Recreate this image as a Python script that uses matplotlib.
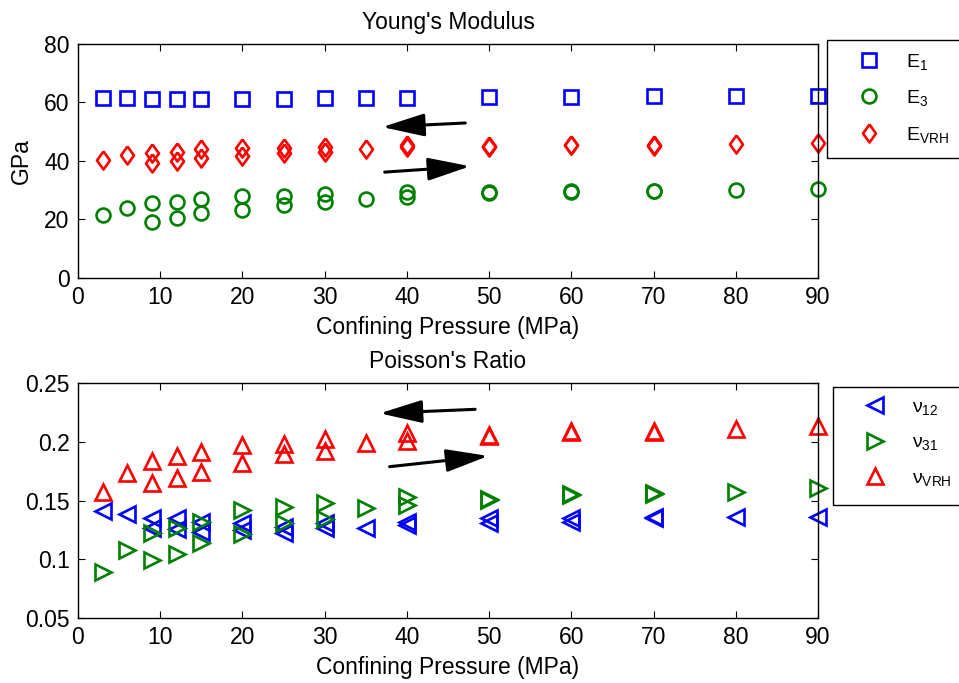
import numpy as np
import matplotlib
matplotlib.use('Agg')
import matplotlib.pyplot as plt
from matplotlib.patches import Rectangle

plt.rcParams['font.family'] = ['Liberation Sans', 'DejaVu Sans']
plt.rcParams['mathtext.default'] = 'regular'

# confining pressure for each measurement (MPa)
p_E1 = [3, 6, 9, 12, 15, 20, 25, 30, 35, 40, 50, 60, 70, 80, 90]
E1 = [61.4, 61.6, 61.1, 61.1, 61.1, 61.1, 61.1, 61.5, 61.5, 61.4, 62.0, 62.0, 62.2, 62.2, 62.2]

p_two = [3, 6, 9, 9, 12, 12, 15, 15, 20, 20, 25, 25, 30, 30, 35, 40, 40,
         50, 50, 60, 60, 70, 70, 80, 90]
E3 = [21.5, 23.8, 25.5, 19.3, 26.1, 20.4, 27.0, 22.1, 28.1, 23.2, 28.1, 25.0,
      28.7, 25.9, 26.9, 29.5, 27.8, 29.4, 28.9, 29.7, 29.3, 29.8, 29.6, 30.1, 30.5]
E_VRH = [40.3, 42.0, 42.6, 39.4, 43.2, 40.0, 44.0, 40.9, 44.3, 41.7, 44.6, 42.8,
         44.9, 43.2, 44.0, 45.5, 44.7, 45.1, 44.7, 45.6, 45.3, 45.4, 45.1, 45.7, 46.0]

nu12 = [0.141, 0.1385, 0.1354, 0.127, 0.1354, 0.1255, 0.132, 0.1235, 0.1306, 0.125,
        0.1277, 0.1227, 0.1306, 0.1263, 0.127, 0.132, 0.129, 0.1348, 0.1306,
        0.1348, 0.132, 0.1357, 0.1352, 0.1362, 0.136]
nu31 = [0.0889, 0.1079, 0.1221, 0.0994, 0.1269, 0.1042, 0.1314, 0.1136, 0.1419, 0.1212,
        0.1447, 0.1311, 0.1476, 0.1343, 0.1434, 0.1532, 0.146, 0.151, 0.1505,
        0.1555, 0.155, 0.1562, 0.1555, 0.1575, 0.1604]
nu_VRH = [0.1575, 0.173, 0.184, 0.165, 0.188, 0.169, 0.1915, 0.1745, 0.197, 0.182,
          0.198, 0.1896, 0.2023, 0.192, 0.1987, 0.2077, 0.2006, 0.2057, 0.2052,
          0.209, 0.2085, 0.2092, 0.2085, 0.2109, 0.2134]

xticks = [0, 10, 20, 30, 40, 50, 60, 70, 80, 90]

FS = 16.5

# matlab-like diamond (a bit wider than mpl's thin diamond)
diamond = [(0, 1), (0.72, 0), (0, -1), (-0.72, 0), (0, 1)]

fig = plt.figure(figsize=(9.59, 6.83), dpi=100)
ax1 = fig.add_axes([78/959, 1-278/683, 740/959, 234/683])
ax2 = fig.add_axes([78/959, 1-618/683, 740/959, 235/683])

mk = dict(linestyle='none', markerfacecolor='none', markersize=10, markeredgewidth=1.9,
          clip_on=False)

ax1.plot(p_E1, E1, marker='s', color='#0000ff', label='E$_1$', **mk)
ax1.plot(p_two, E3, marker='o', color='#008000', label='E$_3$', **mk)
mk_d = dict(mk, markersize=13)
ax1.plot(p_two, E_VRH, marker=diamond, color='#ff0000', label='E$_{VRH}$', **mk_d)

mk_t = dict(mk, markersize=11)
ax2.plot(p_two, nu12, marker='<', color='#0000ff', label='ν$_{12}$', **mk_t)
ax2.plot(p_two, nu31, marker='>', color='#008000', label='ν$_{31}$', **mk_t)
ax2.plot(p_two, nu_VRH, marker='^', color='#ff0000', label='ν$_{VRH}$', **mk_t)

ax1.set_ylim(0, 80)
ax1.set_yticks([0, 20, 40, 60, 80])
ax2.set_ylim(0.05, 0.25)
ax2.set_yticks([0.05, 0.1, 0.15, 0.2, 0.25])
ax2.set_yticklabels(['0.05', '0.1', '0.15', '0.2', '0.25'])

for ax in (ax1, ax2):
    ax.set_xlim(0, 90)
    ax.set_xticks(xticks)
    ax.tick_params(direction='in', top=True, right=True, labelsize=FS, length=5, width=0.8,
                   pad=6)
    ax.set_xlabel('Confining Pressure (MPa)', fontsize=FS, labelpad=5)
    for s in ax.spines.values():
        s.set_linewidth(1.0)

ax1.set_title("Young's Modulus", fontsize=FS, pad=11)
ax2.set_title("Poisson's Ratio", fontsize=FS, pad=11)
ax1.set_ylabel('GPa', fontsize=FS, labelpad=8)

arr = dict(arrowstyle='-|>,head_length=2.6,head_width=0.7', color='black', lw=2.2,
           shrinkA=0, shrinkB=0)
ax1.annotate('', xy=(37.0, 51.6), xytext=(47.1, 53.0), arrowprops=arr)
ax1.annotate('', xy=(47.7, 38.2), xytext=(37.3, 36.2), arrowprops=arr)
ax2.annotate('', xy=(36.7, 0.2242), xytext=(48.3, 0.2276), arrowprops=arr)
ax2.annotate('', xy=(49.9, 0.1879), xytext=(37.9, 0.1788), arrowprops=arr)

# legends: box runs off the right edge of the figure, like the original
leg_kw = dict(loc='upper left', frameon=False, fontsize=14,
              borderpad=0.6, labelspacing=0.85, handletextpad=0.35, handlelength=3.1,
              borderaxespad=0)
ax1.legend(bbox_to_anchor=(827/959, 1-40/683), bbox_transform=fig.transFigure, **leg_kw)
ax2.legend(bbox_to_anchor=(833/959, 1-387/683), bbox_transform=fig.transFigure, **leg_kw)
fig.patches.append(Rectangle((827/959, 1-158/683), 200/959, 118/683, transform=fig.transFigure,
                             fill=False, edgecolor='black', lw=1.0))
fig.patches.append(Rectangle((833/959, 1-505/683), 200/959, 118/683, transform=fig.transFigure,
                             fill=False, edgecolor='black', lw=1.0))

fig.savefig('out.png', dpi=100)
